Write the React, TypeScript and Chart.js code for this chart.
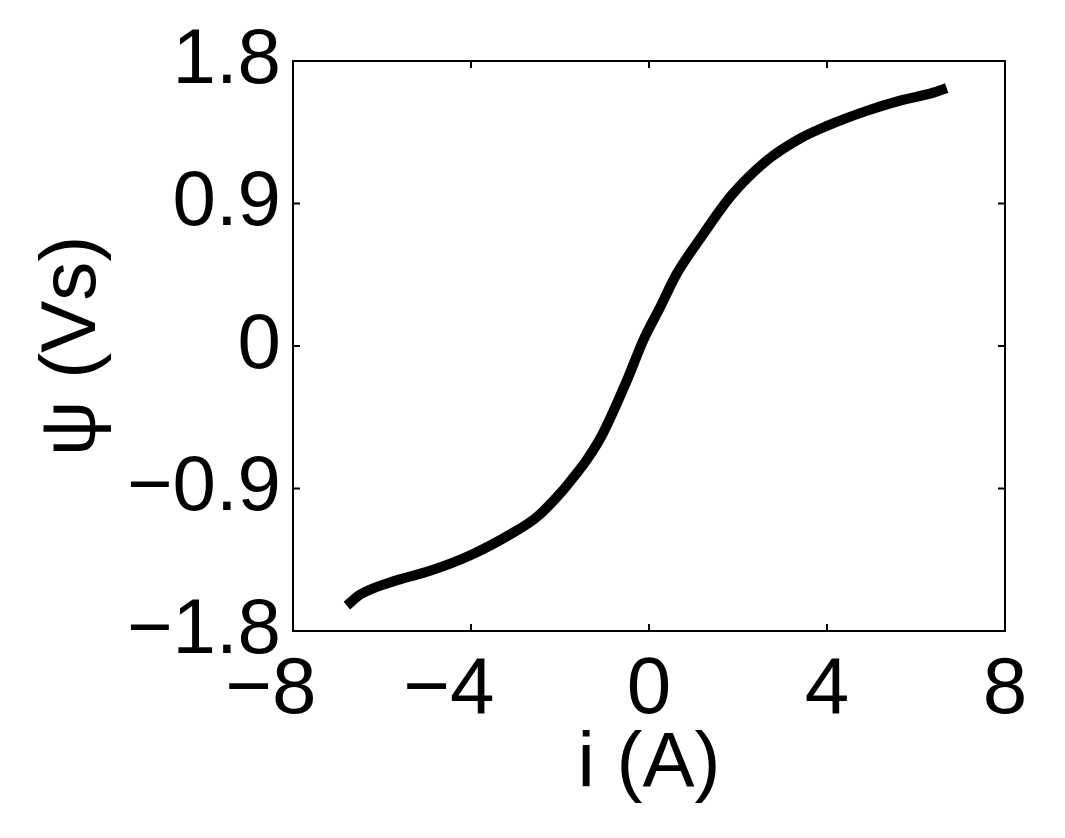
import React, { useEffect, useRef } from "react";
import { Chart, registerables } from "chart.js";

Chart.register(...registerables);

// Flux-linkage curve psi(i)
const currentA = [-6.79, -6.49, -5.67, -4.92, -4.0, -3.12, -2.52, -1.93, -1.7, -1.4, -1.05, -0.5, -0.13, 0.25, 0.62, 1.18, 1.85, 2.64, 3.39, 4.0, 4.89, 5.64, 6.39, 6.69];
const fluxVs = [-1.64, -1.57, -1.48, -1.42, -1.32, -1.19, -1.08, -0.91, -0.83, -0.72, -0.56, -0.22, 0.035, 0.245, 0.455, 0.69, 0.95, 1.17, 1.31, 1.39, 1.485, 1.55, 1.6, 1.63];

const xTicks = [-8, -4, 0, 4, 8];
const yTicks = [-1.8, -0.9, 0, 0.9, 1.8];

const xTitle = "i (A)";
const yTitle = "\u03C8 (Vs)";

const FONT = "'Liberation Sans', Arial, Helvetica, sans-serif";

const fmt = (v: number) => (v < 0 ? "\u2212" + String(Math.abs(v)) : String(v));
// x labels: the number itself is centred on the tick, the minus hangs left
const fmtX = (v: number) => (v < 0 ? fmt(v) + "\u00A0\u00A0" : fmt(v));

const boxPlugin = {
  id: "matlabBox",
  afterDatasetsDraw(chart: any) {
    const { ctx, chartArea: a, scales } = chart;
    const tl = 7;
    ctx.save();
    ctx.strokeStyle = "#000";
    ctx.lineWidth = 2;
    ctx.beginPath();
    ctx.rect(a.left, a.top, a.right - a.left, a.bottom - a.top);
    ctx.stroke();
    ctx.beginPath();
    for (const v of xTicks) {
      const x = scales.x.getPixelForValue(v);
      ctx.moveTo(x, a.bottom);
      ctx.lineTo(x, a.bottom - tl);
      ctx.moveTo(x, a.top);
      ctx.lineTo(x, a.top + tl);
    }
    for (const v of yTicks) {
      const y = scales.y.getPixelForValue(v);
      ctx.moveTo(a.left, y);
      ctx.lineTo(a.left + tl, y);
      ctx.moveTo(a.right, y);
      ctx.lineTo(a.right - tl, y);
    }
    ctx.stroke();
    ctx.restore();
  },
};

export default function App() {
  const ref = useRef<HTMLCanvasElement | null>(null);

  useEffect(() => {
    if (!ref.current) return;
    const chart = new Chart(ref.current, {
      type: "line",
      data: {
        datasets: [
          {
            data: currentA.map((x, i) => ({ x, y: fluxVs[i] })),
            borderColor: "#000",
            borderWidth: 10,
            borderCapStyle: "butt",
            borderJoinStyle: "round",
            pointRadius: 0,
            fill: false,
            cubicInterpolationMode: "monotone",
            tension: 0.4,
          },
        ],
      },
      plugins: [boxPlugin],
      options: {
        animation: false,
        responsive: true,
        maintainAspectRatio: false,
        devicePixelRatio: 1,
        layout: { padding: { top: 61, right: 60, left: 0, bottom: 0 } },
        plugins: { legend: { display: false }, tooltip: { enabled: false } },
        scales: {
          x: {
            type: "linear",
            min: -8,
            max: 8,
            afterBuildTicks: (s: any) => {
              s.ticks = xTicks.map((v) => ({ value: v }));
            },
            afterFit: (s: any) => {
              s.height = 207;
            },
            grid: { display: false, drawTicks: false },
            border: { display: false },
            ticks: {
              color: "#000",
              padding: 12,
              maxRotation: 0,
              autoSkip: false,
              font: { family: FONT, size: 80 },
              callback: (v: any) => fmtX(Number(v)),
            },
            title: {
              display: true,
              text: xTitle,
              color: "#000",
              font: { family: FONT, size: 78 },
              padding: { top: 0, bottom: 26 },
            },
          },
          y: {
            type: "linear",
            min: -1.8,
            max: 1.8,
            afterBuildTicks: (s: any) => {
              s.ticks = yTicks.map((v) => ({ value: v }));
            },
            afterFit: (s: any) => {
              s.width = 293;
            },
            grid: { display: false, drawTicks: false },
            border: { display: false },
            ticks: {
              color: "#000",
              padding: 12,
              autoSkip: false,
              font: { family: FONT, size: 78 },
              callback: (v: any) => fmt(Number(v)),
            },
            title: {
              display: true,
              text: yTitle,
              color: "#000",
              font: { family: FONT, size: 78 },
              padding: { top: 27, bottom: 0 },
            },
          },
        },
      },
    } as any);
    return () => chart.destroy();
  }, []);

  return (
    <div style={{ position: "fixed", left: 0, top: 0, width: 1065, height: 838, background: "#fff" }}>
      <canvas ref={ref} />
    </div>
  );
}
